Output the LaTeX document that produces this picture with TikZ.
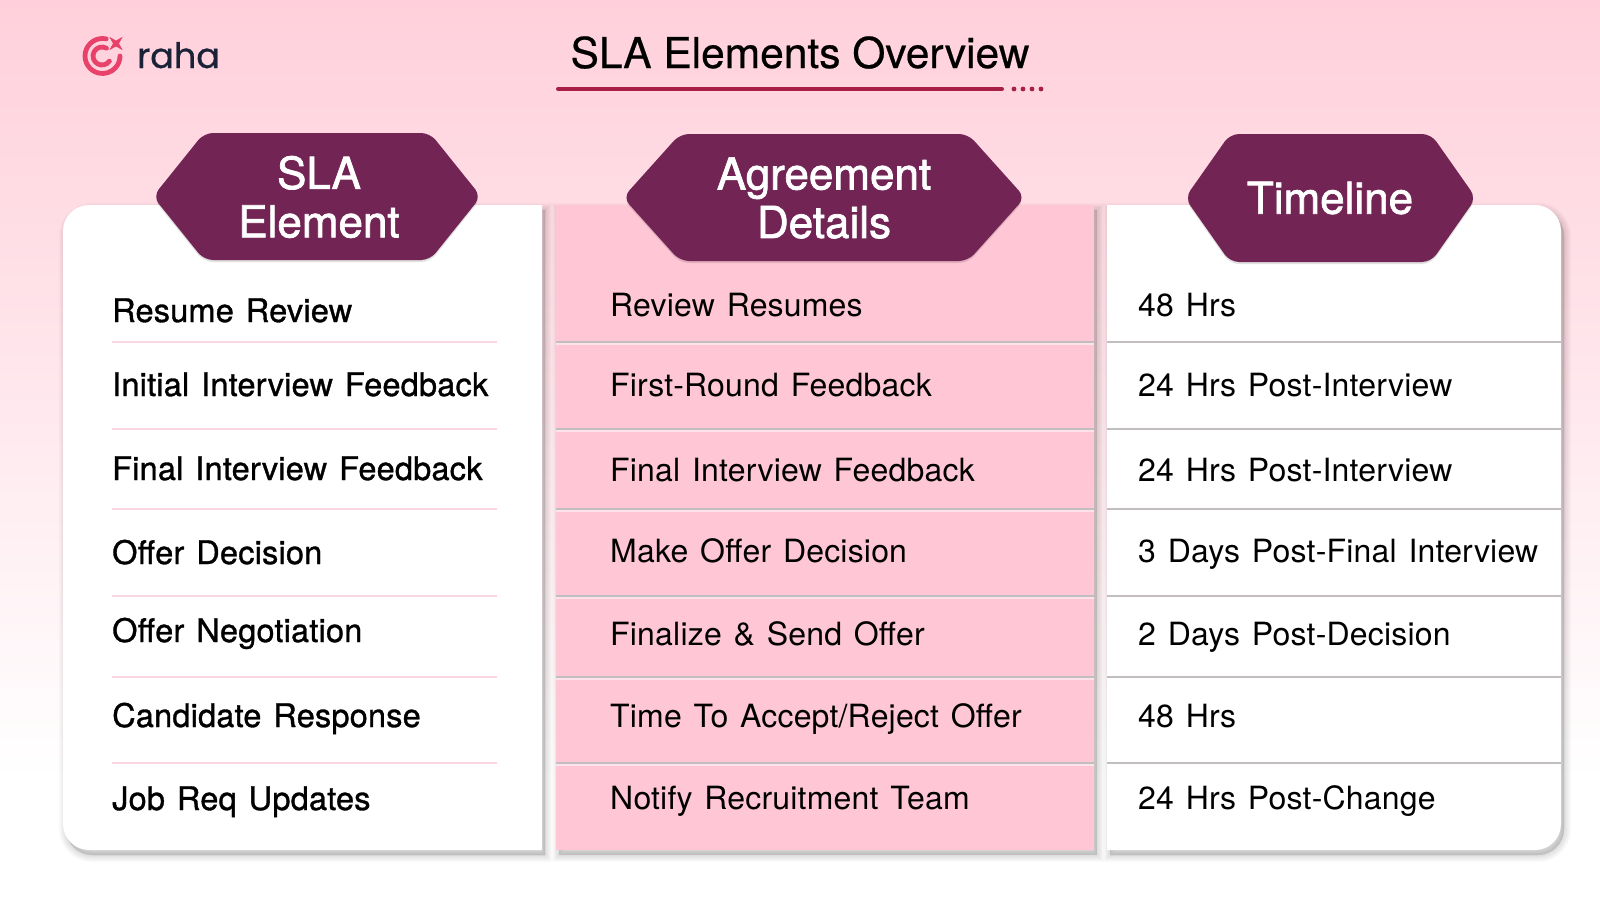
\documentclass[tikz,border=0pt]{standalone}
\usepackage{fontspec}
\usepackage{tikz}
\usetikzlibrary{shapes.geometric}

\setmainfont{TeX Gyre Heros}
\newfontfamily\mediumfont[FakeBold=1,WordSpace=1.3,LetterSpace=0.6]{TeX Gyre Heros}
\newfontfamily\plainfont[WordSpace=1.3,LetterSpace=0.6]{TeX Gyre Heros}
\newfontfamily\titlefont[FakeBold=0.5,WordSpace=1]{TeX Gyre Heros}
\newfontfamily\headfont[FakeBold=1.6]{TeX Gyre Heros}
\newfontfamily\logofont[FakeBold=0.8]{Poppins}

\definecolor{bgpink}{HTML}{FFD0DB}
\definecolor{midpink}{HTML}{FFC6D6}
\definecolor{plum}{HTML}{722555}
\definecolor{crimson}{HTML}{A81F45}
\definecolor{logored}{HTML}{E8426A}
\definecolor{logoink}{HTML}{1A2238}
\definecolor{rulepink}{HTML}{F9D6E0}
\definecolor{rulegrey}{HTML}{C2BEC0}
\definecolor{rulepale}{HTML}{FFE3EA}

\tikzset{
    elemtext/.style={anchor=base west, inner sep=0pt, font=\mediumfont\fontsize{32.5}{36}\selectfont},
    plaintext/.style={anchor=base west, inner sep=0pt, font=\plainfont\fontsize{32}{36}\selectfont},
    headtext/.style={align=center, inner sep=0pt, text=white, font=\headfont\fontsize{44}{48.5}\selectfont},
    headshape/.style={fill=plum, rounded corners=9},
    headshade/.style={fill=black, opacity=.12, rounded corners=9, yshift=-2pt},
    softshade/.style={black, opacity=.014},
    logoline/.style={logored, line cap=round, line width=4.8}
}

\newcommand{\softshadow}[1]{\foreach \s in {1,...,8} {\filldraw[softshade, line width=1.8*\s, xshift=3pt, yshift=-5pt] #1;}}
\newcommand{\hexpath}[7]{(#2,#5) -- (#3,#5) -- (#4,#7) -- (#3,#6) -- (#2,#6) -- (#1,#7) -- cycle}
\def\elempanel{(542,205) -- (89,205) arc (-90:-180:26) -- (63,824) arc (-180:-270:26) -- (542,850) -- cycle}
\def\agreepanel{(556,205) rectangle (1094,850)}
\def\timepanel{(1107,205) -- (1535,205) arc (-90:0:26) -- (1561,824) arc (0:90:26) -- (1107,850) -- cycle}

\begin{document}
\begin{tikzpicture}[x=1pt,y=-1pt]
    \useasboundingbox (0,0) rectangle (1600,900);
    \fill[white] (0,0) rectangle (1600,900);
    \shade[top color=bgpink, bottom color=white] (0,0) rectangle (1600,780);

    \draw[logoline] (102.5,56) ++(-78:17.5) arc (-78:-360:17.5);
    \draw[logoline] (102,56) ++(-60:9) arc (-60:-325:9);
    \node[star, star points=4, star point ratio=3.2, minimum size=19pt, inner sep=0pt, fill=logored, rotate=45] (logostar) at (116,43.5) {};
    \node[anchor=base west, inner sep=0pt, text=logoink, font=\logofont\fontsize{35}{40}\selectfont] (logotext) at (137,68) {raha};

    \node[anchor=base, inner sep=0pt, font=\titlefont\fontsize{42.5}{46}\selectfont] (title) at (800,68) {SLA Elements Overview};
    \draw[crimson, line width=4, line cap=round] (558,89) -- (1002,89);
    \foreach \d in {1014,1023,1032,1041} {\fill[crimson] (\d,89) circle (2.4);}

    \softshadow{\elempanel}
    \fill[white] \elempanel;
    \softshadow{\agreepanel}
    \fill[midpink] \agreepanel;
    \softshadow{\timepanel}
    \fill[white] \timepanel;

    \foreach \y in {342,429,509,596,677,763} {
        \draw[rulepink, line width=1.5] (112,\y) -- (497,\y);
        \draw[rulegrey, line width=2] (556,\y) -- (1094,\y);
        \draw[rulepale, line width=1.5] (556,\y+2) -- (1094,\y+2);
        \draw[rulegrey, line width=2] (1107,\y) -- (1561,\y);
    }

    \path[headshade] \hexpath{153}{204}{430}{481}{133}{260}{196.5};
    \path[headshape] \hexpath{153}{204}{430}{481}{133}{260}{196.5};
    \path[headshade] \hexpath{623}{680}{968}{1025}{134}{261}{197.5};
    \path[headshape] \hexpath{623}{680}{968}{1025}{134}{261}{197.5};
    \path[headshade] \hexpath{1185}{1230}{1431}{1476}{134}{262}{198};
    \path[headshape] \hexpath{1185}{1230}{1431}{1476}{134}{262}{198};

    \node[headtext] (elemhead) at (319,197) {SLA\\Element};
    \node[headtext] (agreehead) at (824,198) {Agreement\\Details};
    \node[headtext] (timehead) at (1330,198) {Timeline};

    \node[elemtext] (e1) at (112,322) {Resume Review};
    \node[elemtext] (e2) at (112,396) {Initial Interview Feedback};
    \node[elemtext] (e3) at (112,480) {Final Interview Feedback};
    \node[elemtext] (e4) at (112,564) {Offer Decision};
    \node[elemtext] (e5) at (112,642) {Offer Negotiation};
    \node[elemtext] (e6) at (112,727) {Candidate Response};
    \node[elemtext] (e7) at (112,810) {Job Req Updates};

    \node[plaintext] (a1) at (610,316) {Review Resumes};
    \node[plaintext] (a2) at (610,396) {First-Round Feedback};
    \node[plaintext] (a3) at (610,481) {Final Interview Feedback};
    \node[plaintext] (a4) at (610,562) {Make Offer Decision};
    \node[plaintext] (a5) at (610,645) {Finalize \& Send Offer};
    \node[plaintext] (a6) at (610,727) {Time To Accept/Reject Offer};
    \node[plaintext] (a7) at (610,809) {Notify Recruitment Team};

    \node[plaintext] (t1) at (1138,316) {48 Hrs};
    \node[plaintext] (t2) at (1138,396) {24 Hrs Post-Interview};
    \node[plaintext] (t3) at (1138,481) {24 Hrs Post-Interview};
    \node[plaintext] (t4) at (1138,562) {3 Days Post-Final Interview};
    \node[plaintext] (t5) at (1138,645) {2 Days Post-Decision};
    \node[plaintext] (t6) at (1138,727) {48 Hrs};
    \node[plaintext] (t7) at (1138,809) {24 Hrs Post-Change};
\end{tikzpicture}
\end{document}
